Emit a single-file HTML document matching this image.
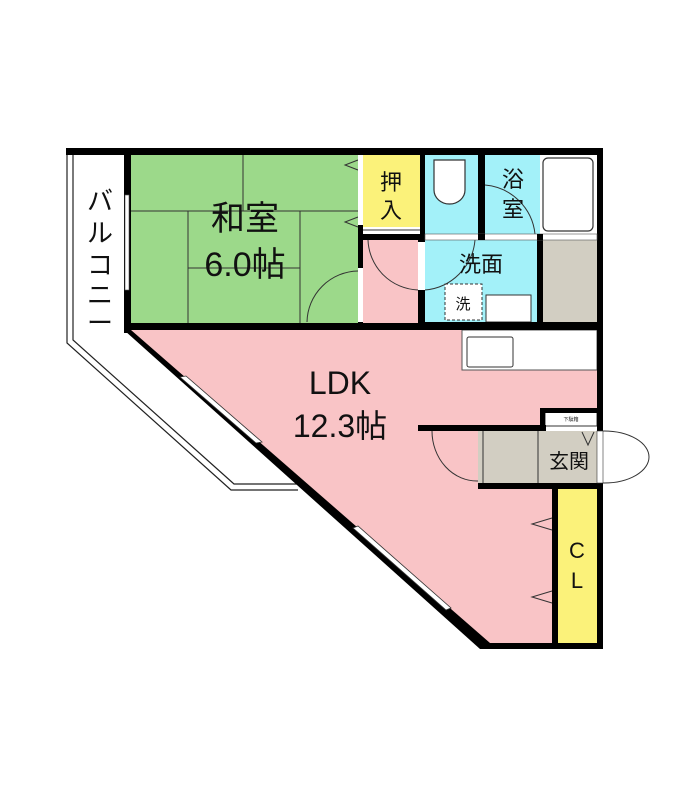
<!DOCTYPE html>
<html><head><meta charset="utf-8"><style>
html,body{margin:0;padding:0;background:#fff;}
svg{display:block}
text{font-family:"Liberation Sans","Noto Sans CJK JP",sans-serif;fill:#111}
</style></head><body>
<svg width="700" height="787" viewBox="0 0 700 787" xmlns="http://www.w3.org/2000/svg">
<!-- balcony -->
<path d="M67,150 L67,343 L231,490 L298,490" fill="none" stroke="#222" stroke-width="1.2"/>
<path d="M73,155 L73,340 L234,484 L298,484" fill="none" stroke="#222" stroke-width="1.2"/>
<!-- LDK pink -->
<polygon points="127,330 418,330 418,240 425,240 425,330 462,330 462,370 597,370 597,408 545,408 545,428 420,428 478,431 478,489 555,489 555,646 487,646" fill="#f9c4c6"/>
<rect x="358" y="234" width="62" height="96" fill="#f9c4c6"/>
<polygon points="420,428 478,428 478,489 420,489" fill="#f9c4c6"/>
<!-- washitsu -->
<rect x="127" y="153" width="236" height="174" fill="#9cd98a"/>
<g stroke="#333" stroke-width="1" fill="none">
<line x1="243" y1="153" x2="243" y2="211"/>
<line x1="127" y1="211" x2="358" y2="211"/>
<line x1="188" y1="211" x2="188" y2="325"/>
<line x1="300" y1="211" x2="300" y2="325"/>
<line x1="188" y1="268" x2="300" y2="268"/>
<path d="M358,160 L345,165 L358,170"/><path d="M358,217 L345,222 L358,227"/>
<path d="M307,322 A52,52 0 0 1 358,271"/>
</g>
<!-- oshiire -->
<rect x="363" y="153" width="57" height="81" fill="#fbf27a"/>
<!-- toilet / bath -->
<rect x="425" y="153" width="53" height="81" fill="#a3f1f9"/>
<rect x="485" y="153" width="55" height="81" fill="#a3f1f9"/>
<rect x="540" y="153" width="57" height="81" fill="#fff"/>
<rect x="543" y="158" width="50" height="73" rx="5" fill="#fff" stroke="#333" stroke-width="1.2"/>
<path d="M434,160 h31 v30 a15.5,14 0 0 1 -31,0 z" fill="#fff" stroke="#333" stroke-width="1.2"/>
<path d="M485,185 A55,55 0 0 1 535,234" fill="none" stroke="#333"/>
<!-- senmen -->
<rect x="425" y="240" width="112" height="82" fill="#a3f1f9"/>
<rect x="445" y="284" width="37" height="36" fill="#fff" stroke="#333" stroke-dasharray="3,2"/>
<rect x="486" y="295" width="45" height="27" fill="#fff" stroke="#333"/>
<path d="M425,290 A55,55 0 0 0 475,240" fill="none" stroke="#333"/>
<rect x="543" y="240" width="54" height="82" fill="#d2cec2"/>
<!-- kitchen -->
<rect x="462" y="330" width="135" height="40" fill="#fff" stroke="#555" stroke-width="1"/>
<rect x="467" y="337" width="46" height="30" rx="2" fill="#fff" stroke="#333"/>
<!-- genkan -->
<rect x="478" y="431" width="119" height="52" fill="#d2cec2"/>
<line x1="538" y1="431" x2="538" y2="483" stroke="#333"/>
<line x1="483" y1="431" x2="483" y2="483" stroke="#333"/>
<rect x="545" y="411" width="52" height="15" fill="#fff" stroke="#333"/>
<text x="571" y="421" font-size="5" text-anchor="middle">下駄箱</text>
<path d="M597,431 L604,431 A45,26 0 0 1 604,483 L597,483" fill="#fff" stroke="#333"/>
<path d="M432,431 A45,50 0 0 0 478,481" fill="none" stroke="#333"/>
<path d="M582,432 L588,445 L594,432" fill="none" stroke="#333"/>
<!-- CL -->
<rect x="557" y="489" width="40" height="154" fill="#fbf27a"/>
<g stroke="#333" fill="none"><path d="M552,518 L532,524 L552,530"/><path d="M552,591 L532,597 L552,603"/></g>
<rect x="552" y="517" width="5" height="90" fill="#fff"/>
<!-- LDK door arc -->
<path d="M368,240 A52,52 0 0 0 418,290" fill="none" stroke="#333"/>
<!-- walls -->
<g fill="#000">
<rect x="66" y="148" width="537" height="7"/>
<rect x="124" y="148" width="7" height="185"/>
<rect x="124" y="323" width="294" height="7"/>
<rect x="358" y="153" width="5" height="177"/>
<rect x="420" y="153" width="5" height="81"/>
<rect x="478" y="153" width="7" height="87"/>
<rect x="597" y="148" width="6" height="500"/>
<rect x="363" y="234" width="240" height="6"/>
<rect x="418" y="240" width="7" height="90"/>
<rect x="537" y="240" width="6" height="90"/>
<rect x="418" y="322" width="185" height="8"/>
<rect x="418" y="425" width="128" height="6"/>
<rect x="540" y="408" width="63" height="5"/>
<rect x="540" y="408" width="5" height="23"/>
<rect x="478" y="483" width="125" height="6"/>
<rect x="552" y="483" width="6" height="165"/>
<rect x="487" y="643" width="116" height="6"/>
<polygon points="124,330 131,330 490,643 487,649 480,649"/>
</g>
<!-- white gaps -->
<rect x="358" y="155" width="5" height="70" fill="#fff"/>
<rect x="358" y="268" width="5" height="54" fill="#fff"/>
<rect x="418" y="242" width="7" height="48" fill="#fff"/>
<rect x="125" y="195" width="4" height="95" fill="#fff" stroke="#555" stroke-width="0.6"/>
<rect x="363" y="227" width="57" height="7" fill="#fff"/>
<line x1="363" y1="230" x2="420" y2="230" stroke="#333"/>
<rect x="425" y="234" width="172" height="6" fill="#fff" stroke="#555" stroke-width="0.6"/>
<rect x="478" y="234" width="7" height="6" fill="#000"/>
<rect x="537" y="234" width="6" height="6" fill="#000"/>
<rect x="597" y="431" width="6" height="52" fill="#fff" stroke="#333" stroke-width="0.6"/>
<polygon points="180,377 186,376 262,442 256,443" fill="#fff" stroke="#333" stroke-width="0.8"/>
<polygon points="353,528 358,526 451,608 446,610" fill="#fff" stroke="#333" stroke-width="0.8"/>
<!-- labels -->
<text x="245" y="230" font-size="34" text-anchor="middle">和室</text>
<text x="245" y="276" font-size="34" text-anchor="middle">6.0帖</text>
<text x="340" y="394" font-size="32" text-anchor="middle">LDK</text>
<text x="340" y="437" font-size="32" text-anchor="middle">12.3帖</text>
<text x="391" y="190" font-size="22" text-anchor="middle">押</text>
<text x="391" y="218" font-size="22" text-anchor="middle">入</text>
<text x="513" y="187" font-size="22" text-anchor="middle">浴</text>
<text x="513" y="217" font-size="22" text-anchor="middle">室</text>
<text x="481" y="272" font-size="22" text-anchor="middle">洗面</text>
<text x="463" y="309" font-size="15" text-anchor="middle">洗</text>
<text x="569" y="468" font-size="20" text-anchor="middle">玄関</text>
<text x="577" y="558" font-size="22" text-anchor="middle">C</text>
<text x="577" y="588" font-size="22" text-anchor="middle">L</text>
<g font-size="26" text-anchor="middle">
<text x="100" y="210">バ</text><text x="100" y="242">ル</text><text x="100" y="274">コ</text><text x="100" y="304">ニ</text><text x="100" y="332">ー</text>
</g>
</svg>
</body></html>
